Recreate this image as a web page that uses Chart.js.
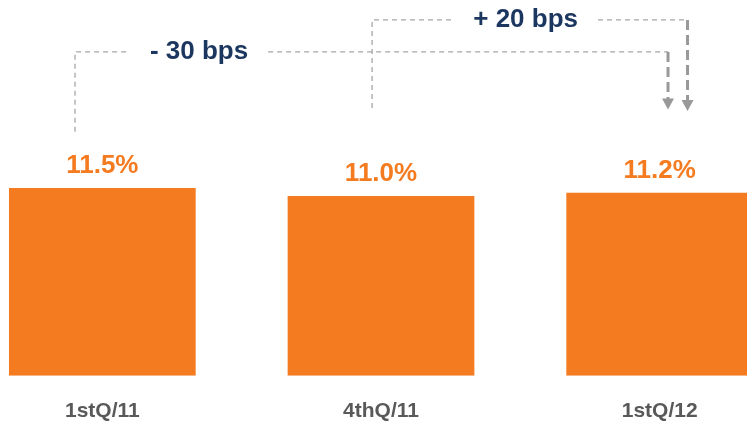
<!DOCTYPE html>
<html>
<head>
<meta charset="utf-8">
<script src="https://cdn.jsdelivr.net/npm/chart.js@4/dist/chart.umd.min.js"></script>
<style>
    html, body { margin: 0; padding: 0; background: #fff; overflow: hidden; }
    body { width: 747px; height: 423px; position: relative; }
    #wrap { position: absolute; left: -37px; top: 0; width: 836px; height: 447px; }
</style>
</head>
<body>
<div id="wrap"><canvas id="barChart"></canvas></div>
<script>
const quarters = ['1stQ/11', '4thQ/11', '1stQ/12'];
const ratios = [11.5, 11.0, 11.2];

const FONT = '"Liberation Sans", Arial, sans-serif';
const ORANGE = '#F47B20';
const NAVY = '#1B365F';

// value labels over each bar
const valueLabels = {
    id: 'valueLabels',
    afterDatasetsDraw(chart) {
        const ctx = chart.ctx;
        const meta = chart.getDatasetMeta(0);
        ctx.save();
        ctx.font = 'bold 26px ' + FONT;
        ctx.fillStyle = ORANGE;
        ctx.textAlign = 'center';
        ctx.textBaseline = 'alphabetic';
        meta.data.forEach((bar, i) => {
            ctx.fillText(ratios[i].toFixed(1) + '%', bar.x, bar.y - 15);
        });
        ctx.restore();
    }
};

// dashed brackets with the bps change, ending in arrows on the last bar
const changeBrackets = {
    id: 'changeBrackets',
    afterDraw(chart, args, opts) {
        const ctx = chart.ctx;
        const xs = chart.scales.x;
        const ys = chart.scales.y;
        opts.items.forEach(b => {
            const x0 = xs.getPixelForValue(b.from);
            const x1 = xs.getPixelForValue(b.to);
            const yl = ys.getPixelForValue(b.level);
            const ys0 = ys.getPixelForValue(b.start);
            const ytip = ys.getPixelForValue(b.end);
            const xt = xs.getPixelForValue(b.textAt);

            ctx.save();
            ctx.font = 'bold 26px ' + FONT;
            const half = ctx.measureText(b.text).width / 2 + 20;

            // thin legs and top line
            ctx.strokeStyle = '#A6A6A6';
            ctx.lineWidth = 1.3;
            ctx.setLineDash([5, 4]);
            ctx.beginPath();
            ctx.moveTo(x0, ys0);
            ctx.lineTo(x0, yl);
            ctx.lineTo(xt - half, yl);
            ctx.moveTo(xt + half, yl);
            ctx.lineTo(x1, yl);
            ctx.stroke();

            // heavy leg down to the arrow
            ctx.strokeStyle = '#999999';
            ctx.lineWidth = 3;
            ctx.setLineDash([10, 5]);
            ctx.beginPath();
            ctx.moveTo(x1, yl);
            ctx.lineTo(x1, ytip - 10);
            ctx.stroke();

            ctx.setLineDash([]);
            ctx.fillStyle = '#999999';
            ctx.beginPath();
            ctx.moveTo(x1 - 6, ytip - 11);
            ctx.lineTo(x1 + 6, ytip - 11);
            ctx.lineTo(x1, ytip);
            ctx.closePath();
            ctx.fill();

            ctx.fillStyle = NAVY;
            ctx.textAlign = 'center';
            ctx.textBaseline = 'middle';
            ctx.fillText(b.text, xt, yl);
            ctx.restore();
        });
    }
};

new Chart(document.getElementById('barChart'), {
    type: 'bar',
    data: {
        labels: quarters,
        datasets: [{
            data: ratios,
            backgroundColor: ORANGE,
            borderWidth: 0,
            barPercentage: 0.67,
            categoryPercentage: 1
        }]
    },
    options: {
        responsive: true,
        maintainAspectRatio: false,
        animation: false,
        layout: { padding: 0 },
        plugins: {
            legend: { display: false },
            tooltip: { enabled: false },
            changeBrackets: {
                items: [
                    { from: -0.098, to: 2.03, level: 19.82, start: 14.93, end: 16.3, textAt: 0.347, text: '- 30 bps' },
                    { from: 0.968, to: 2.10, level: 21.78, start: 16.39, end: 16.2, textAt: 1.519, text: '+ 20 bps' }
                ]
            }
        },
        scales: {
            x: {
                grid: { display: false, drawTicks: false },
                border: { display: false },
                ticks: {
                    padding: 23,
                    color: '#595959',
                    font: { family: FONT, size: 21, weight: 'bold' }
                }
            },
            y: {
                display: false,
                min: 0,
                max: 23
            }
        }
    },
    plugins: [valueLabels, changeBrackets]
});
</script>
</body>
</html>
